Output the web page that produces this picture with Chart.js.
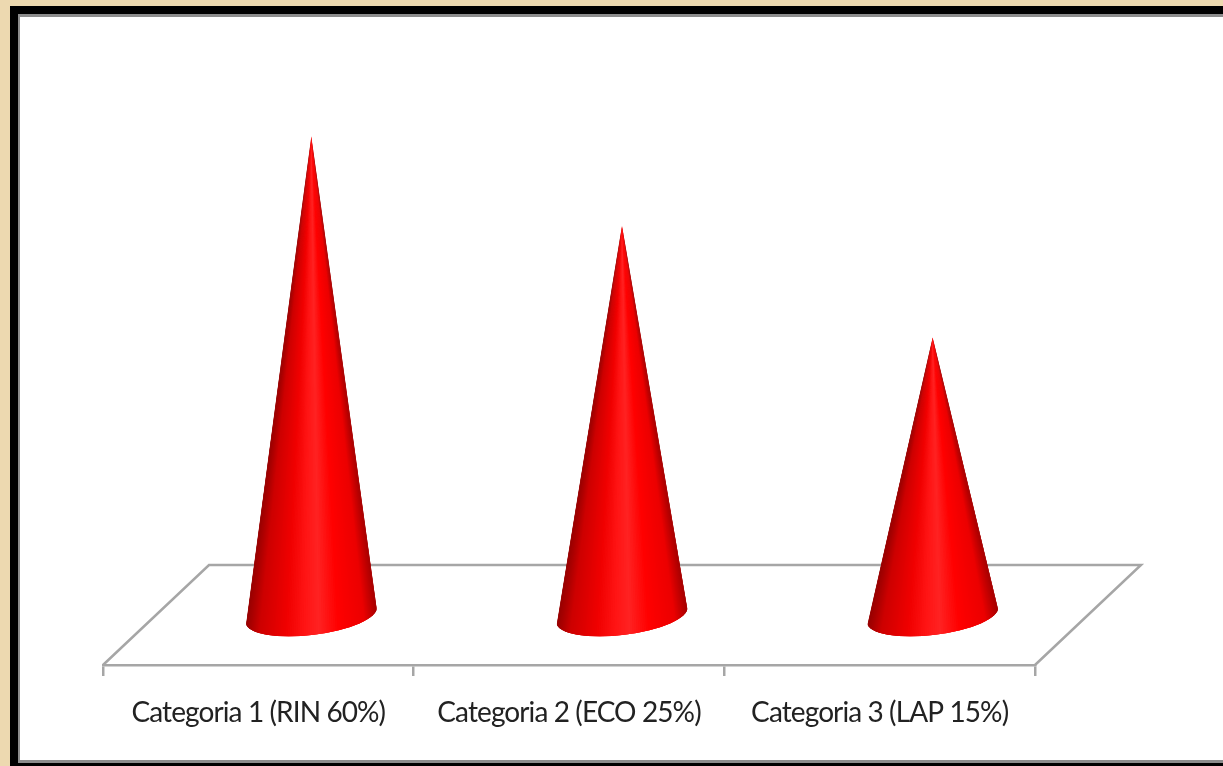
<!DOCTYPE html>
<html>
<head>
<meta charset="utf-8">
<title>Categorie</title>
<script src="https://cdn.jsdelivr.net/npm/chart.js@4"></script>
<style>
  html, body { margin: 0; height: 100%; overflow: hidden; }
  body { background: #edd9b0; }
  #frame {
    position: absolute; left: 10px; top: 6px; right: -10px; bottom: 0;
    box-sizing: border-box; background: #fff;
    border: 8px solid #000; border-bottom-width: 3px; border-right: 0;
    box-shadow: inset 2px 3px 0 #8c8c8c, inset 0 -3px 0 #8c8c8c;
  }
  #chart { position: absolute; left: 0; top: 0; }
</style>
</head>
<body>
<div id="frame"></div>
<canvas id="chart" width="1223" height="766"></canvas>
<script>
// Data
const categories = ['Categoria 1 (RIN 60%)', 'Categoria 2 (ECO 25%)', 'Categoria 3 (LAP 15%)'];
const coneHeights = [59.9, 48.75, 34.75];

// 3D look of the floor and cones
const depthX = 106;
const depthY = 100;
const floorColor = '#a6a6a6';

// Shading around the cone, left edge to right edge: [position, r, g, b]
const shade = [
  [0, 150, 0, 0],
  [0.1, 205, 0, 0],
  [0.3, 240, 0, 0],
  [0.44, 255, 20, 20],
  [0.55, 255, 34, 34],
  [0.7, 255, 0, 0],
  [0.9, 235, 0, 0],
  [1, 165, 0, 0]
];

function shadeAt(f) {
  let i = 0;
  while (i < shade.length - 2 && f > shade[i + 1][0]) i++;
  const a = shade[i];
  const b = shade[i + 1];
  const k = (f - a[0]) / (b[0] - a[0]);
  const mix = n => Math.round(a[n] + (b[n] - a[n]) * k);
  return `rgb(${mix(1)},${mix(2)},${mix(3)})`;
}

// Floor parallelogram, behind the cones
function drawFloor(chart) {
  const ctx = chart.ctx;
  const xs = chart.scales.x;
  ctx.save();
  ctx.strokeStyle = floorColor;
  ctx.lineWidth = 2.5;
  ctx.beginPath();
  ctx.moveTo(xs.left, xs.top);
  ctx.lineTo(xs.left + depthX, xs.top - depthY);
  ctx.lineTo(xs.right + depthX, xs.top - depthY);
  ctx.lineTo(xs.right, xs.top);
  ctx.stroke();
  ctx.restore();
}

// One cone for a bar element
function drawCone(ctx, bar) {
  const cx = bar.x + depthX / 2;
  const cy = bar.base - depthY / 2;
  const tipY = bar.y - depthY / 2;
  const rx = 66;
  const ry = 20;
  const tilt = -0.12;
  const rimPoint = t => [
    cx + rx * Math.cos(t) * Math.cos(tilt) - ry * Math.sin(t) * Math.sin(tilt),
    cy + rx * Math.cos(t) * Math.sin(tilt) + ry * Math.sin(t) * Math.cos(tilt)
  ];

  ctx.save();
  ctx.beginPath();
  ctx.moveTo(cx, tipY);
  ctx.lineTo(...rimPoint(Math.PI));
  ctx.ellipse(cx, cy, rx, ry, tilt, Math.PI, 0, true);
  ctx.closePath();
  ctx.clip();

  // wedges from the tip to the rim, so the shading narrows towards the tip
  const steps = 100;
  for (let i = 0; i < steps; i++) {
    const t0 = Math.PI - Math.PI * i / steps;
    const t1 = Math.PI - Math.PI * (i + 3) / steps;
    const p0 = rimPoint(t0);
    const p1 = rimPoint(Math.max(t1, 0));
    ctx.fillStyle = shadeAt((p0[0] - cx + rx) / (2 * rx));
    ctx.beginPath();
    ctx.moveTo(cx, tipY);
    ctx.lineTo(p0[0], p0[1] + 3);
    ctx.lineTo(p1[0], p1[1] + 3);
    ctx.closePath();
    ctx.fill();
  }
  ctx.restore();
}

const conePlugin = {
  id: 'cones',
  beforeDraw(chart) {
    // Lato runs wider than the label font of the picture
    chart.ctx.letterSpacing = '-0.9px';
  },
  beforeDatasetsDraw(chart) {
    drawFloor(chart);
  },
  afterDatasetsDraw(chart) {
    chart.getDatasetMeta(0).data.forEach(bar => drawCone(chart.ctx, bar));
  }
};

new Chart(document.getElementById('chart'), {
  type: 'bar',
  data: {
    labels: categories,
    datasets: [{
      data: coneHeights,
      backgroundColor: 'transparent'
    }]
  },
  options: {
    responsive: false,
    animation: false,
    layout: { padding: { left: 103, right: 188, top: 105, bottom: 0 } },
    plugins: {
      legend: { display: false },
      tooltip: { enabled: false }
    },
    scales: {
      x: {
        afterFit: scale => { scale.height = 101; },
        border: { color: floorColor, width: 2.5 },
        grid: { color: floorColor, lineWidth: 2.5, drawOnChartArea: false, tickLength: 11 },
        ticks: {
          color: '#222',
          maxRotation: 0,
          autoSkip: false,
          padding: 20,
          font: { family: 'Lato', size: 28 }
        }
      },
      y: {
        display: false,
        min: 0,
        max: 70
      }
    }
  },
  plugins: [conePlugin]
});
</script>
</body>
</html>
